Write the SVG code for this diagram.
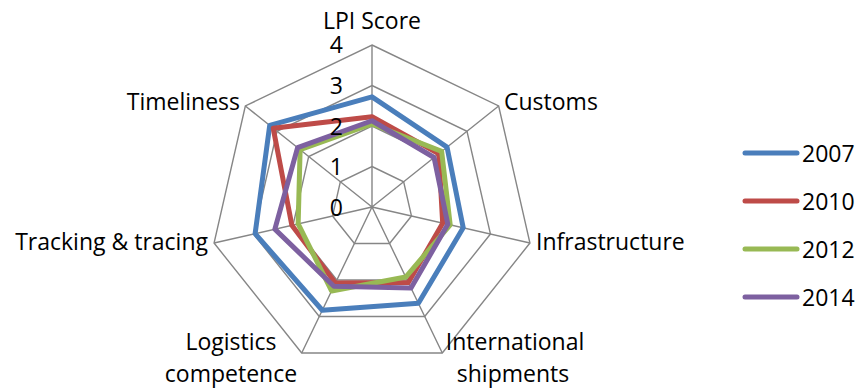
<svg xmlns="http://www.w3.org/2000/svg" width="856" height="388" viewBox="0 0 856 388">
<style>
text{font-family:"Open Sans","Liberation Sans",sans-serif;font-size:23px;fill:#000}
.grid{fill:none;stroke:#868686;stroke-width:1.4}
.s{fill:none;stroke-width:5;stroke-linejoin:round}
.b{stroke:#4A7EBB}.r{stroke:#BE4B48}.g{stroke:#98B954}.p{stroke:#7D60A0}
.lg{stroke-width:5;stroke-linecap:round}
</style>
<rect width="856" height="388" fill="#fff"/>
<g id="grid">
<polygon class="grid" points="372,45 498.66,105.99 529.94,243.05 442.29,352.96 301.71,352.96 214.06,243.05 245.34,105.99"/>
<polygon class="grid" points="372,85.5 466.99,131.25 490.45,234.04 424.72,316.47 319.28,316.47 253.55,234.04 277.01,131.25"/>
<polygon class="grid" points="372,126 435.33,156.5 450.97,225.02 407.14,279.98 336.86,279.98 293.03,225.02 308.67,156.5"/>
<polygon class="grid" points="372,166.5 403.66,181.75 411.48,216.01 389.57,243.49 354.43,243.49 332.52,216.01 340.34,181.75"/>
<path class="grid" d="M372,207L372,45M372,207L498.66,105.99M372,207L529.94,243.05M372,207L442.29,352.96M372,207L301.71,352.96M372,207L214.06,243.05M372,207L245.34,105.99"/>
</g>
<g id="series">
<polygon id="s2007" class="s b" points="372,96.84 447.05,147.15 463.21,227.82 418.39,303.33 322.27,310.27 255.13,233.68 269.72,125.44"/>
<polygon id="s2010" class="s r" points="372,116.68 438.81,153.72 442.68,223.13 408.38,282.54 335.45,282.9 291.84,225.3 273.21,128.22"/>
<polygon id="s2012" class="s g" points="372,123.97 441.66,151.45 450.18,224.84 405.74,277.06 331.58,290.93 298.16,223.85 300.12,149.68"/>
<polygon id="s2014" class="s p" points="372,120.73 434.06,157.51 447.81,224.3 411.01,288.01 333.87,286.19 274.87,229.17 297.59,147.66"/>
</g>
<g id="ticks" text-anchor="end">
<text x="343" y="53">4</text>
<text x="343" y="94">3</text>
<text x="343" y="134.5">2</text>
<text x="343" y="175">1</text>
<text x="343" y="215.5">0</text>
</g>
<g id="axis-labels">
<text x="372" y="29" text-anchor="middle">LPI Score</text>
<text x="504" y="110">Customs</text>
<text x="536" y="250">Infrastructure</text>
<text x="515" y="350" text-anchor="middle">International</text>
<text x="513" y="382" text-anchor="middle">shipments</text>
<text x="231" y="350" text-anchor="middle">Logistics</text>
<text x="231" y="382" text-anchor="middle">competence</text>
<text x="208" y="250" text-anchor="end">Tracking &amp; tracing</text>
<text x="240" y="110" text-anchor="end">Timeliness</text>
</g>
<g id="legend">
<line class="lg b" x1="745" y1="153" x2="797" y2="153"/>
<text x="802" y="161.5">2007</text>
<line class="lg r" x1="745" y1="201" x2="797" y2="201"/>
<text x="802" y="209.5">2010</text>
<line class="lg g" x1="745" y1="249" x2="797" y2="249"/>
<text x="802" y="257.5">2012</text>
<line class="lg p" x1="745" y1="297" x2="797" y2="297"/>
<text x="802" y="305.5">2014</text>
</g>
</svg>
